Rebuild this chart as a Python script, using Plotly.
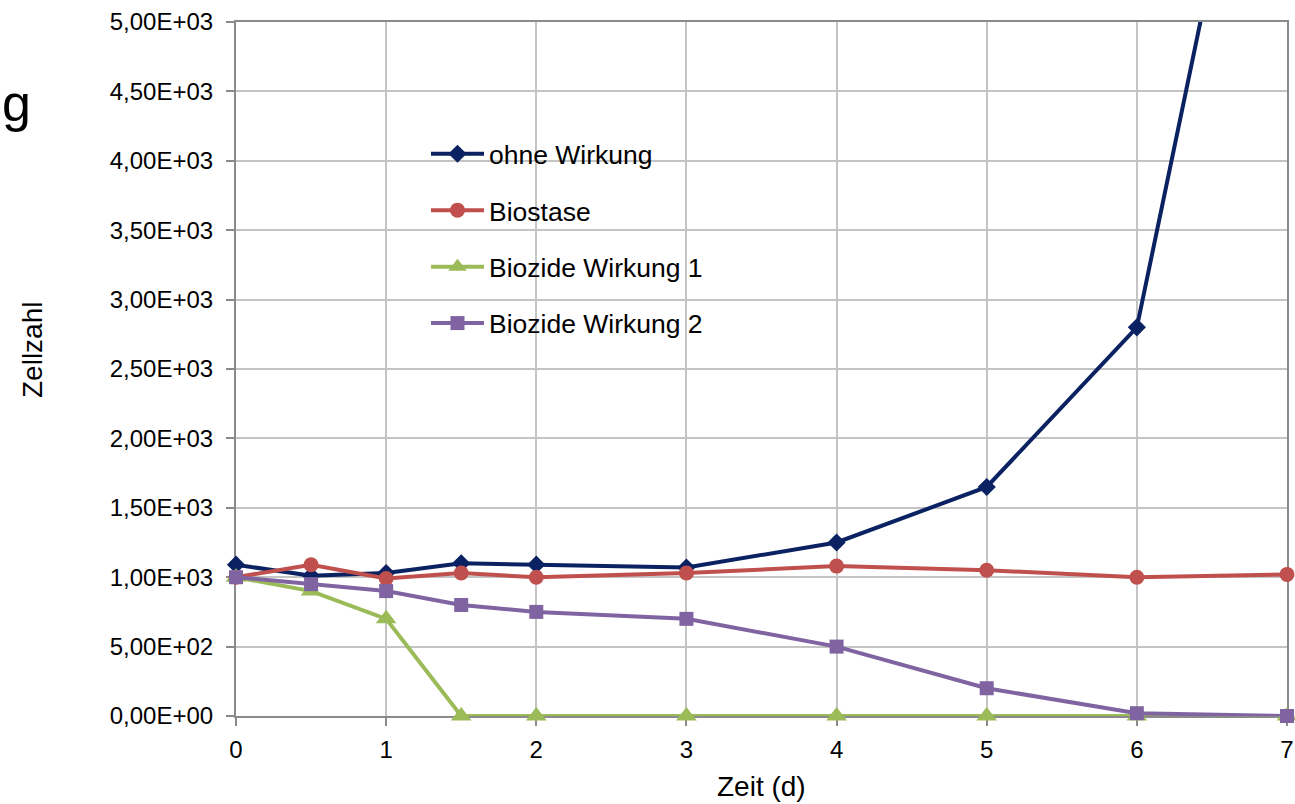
import plotly.graph_objects as go

x_days = [0, 0.5, 1, 1.5, 2, 3, 4, 5, 6, 7]
ohne_wirkung = [1090, 1010, 1030, 1100, 1090, 1070, 1250, 1650, 2800, 8000]
biostase = [1000, 1090, 990, 1030, 1000, 1030, 1080, 1050, 1000, 1020]
biozide_1 = [1000, 900, 700, 0, 0, 0, 0, 0, 0, 0]
biozide_2 = [1000, 950, 900, 800, 750, 700, 500, 200, 20, 0]

y_ticks = [0, 500, 1000, 1500, 2000, 2500, 3000, 3500, 4000, 4500, 5000]
y_tick_text = ["0,00E+00", "5,00E+02", "1,00E+03", "1,50E+03", "2,00E+03", "2,50E+03",
               "3,00E+03", "3,50E+03", "4,00E+03", "4,50E+03", "5,00E+03"]
x_ticks = [0, 1, 2, 3, 4, 5, 6, 7]

FONT = "Liberation Sans, Arial, sans-serif"

series = [
    ("ohne Wirkung", ohne_wirkung, "#0B2262", "diamond", 14),
    ("Biostase", biostase, "#C0504D", "circle", 15),
    ("Biozide Wirkung 1", biozide_1, "#9BBB59", "triangle-up", 18),
    ("Biozide Wirkung 2", biozide_2, "#8064A2", "square", 14),
]

fig = go.Figure()
for i, (name, ys, col, sym, sz) in enumerate(series):
    fig.add_trace(go.Scatter(
        x=x_days, y=ys, name=name, mode="lines+markers",
        line=dict(color=col, width=4),
        marker=dict(color=col, symbol=sym, size=sz),
        legendgroup=f"g{i}",
        cliponaxis=False,
    ))

W, H = 1295, 804
L, R, T, B = 236, 8, 22, 88
pw, ph = W - L - R, H - T - B

def px(xf):
    return (xf - L) / pw

def py(yf):
    return (H - B - yf) / ph

fig.update_layout(
    width=W, height=H,
    margin=dict(l=L, r=R, t=T, b=B, autoexpand=False),
    paper_bgcolor="white", plot_bgcolor="white",
    font=dict(family=FONT, size=24, color="black"),
    showlegend=True,
    legend=dict(x=px(426), y=py(130), xanchor="left", yanchor="top",
                bgcolor="rgba(0,0,0,0)", font=dict(size=26.5),
                tracegroupgap=19, itemwidth=53),
    xaxis=dict(range=[0, 7], tickvals=x_ticks, showgrid=True,
               gridcolor="#C4C4C4", gridwidth=2,
               showline=True, linecolor="#8A8A8A", linewidth=2, mirror=True,
               ticks="outside", ticklen=8, tickcolor="#8A8A8A", tickwidth=2,
               zeroline=False, tickfont=dict(size=24), automargin=False,
               ticklabelstandoff=3, layer="below traces"),
    yaxis=dict(range=[0, 5000], tickvals=y_ticks, ticktext=y_tick_text,
               showgrid=True, gridcolor="#C4C4C4", gridwidth=2,
               showline=True, linecolor="#8A8A8A", linewidth=2, mirror=True,
               ticks="outside", ticklen=8, tickcolor="#8A8A8A", tickwidth=2,
               zeroline=False, tickfont=dict(size=24), ticklabelstandoff=8,
               automargin=False, layer="below traces"),
    annotations=[
        dict(text="Zeit (d)", xref="paper", yref="paper", x=px(761), y=py(787),
             xanchor="center", yanchor="middle", showarrow=False,
             font=dict(size=28, color="black")),
        dict(text="Zellzahl", xref="paper", yref="paper", x=px(32), y=py(350),
             xanchor="center", yanchor="middle", textangle=-90, showarrow=False,
             font=dict(size=28, color="black")),
        dict(text="g", xref="paper", yref="paper", x=px(0), y=py(103),
             xanchor="left", yanchor="middle", showarrow=False,
             font=dict(size=52, color="black")),
    ],
)

fig.write_html("out.html", config={"displayModeBar": False},
               post_script="document.body.style.margin='0';")
